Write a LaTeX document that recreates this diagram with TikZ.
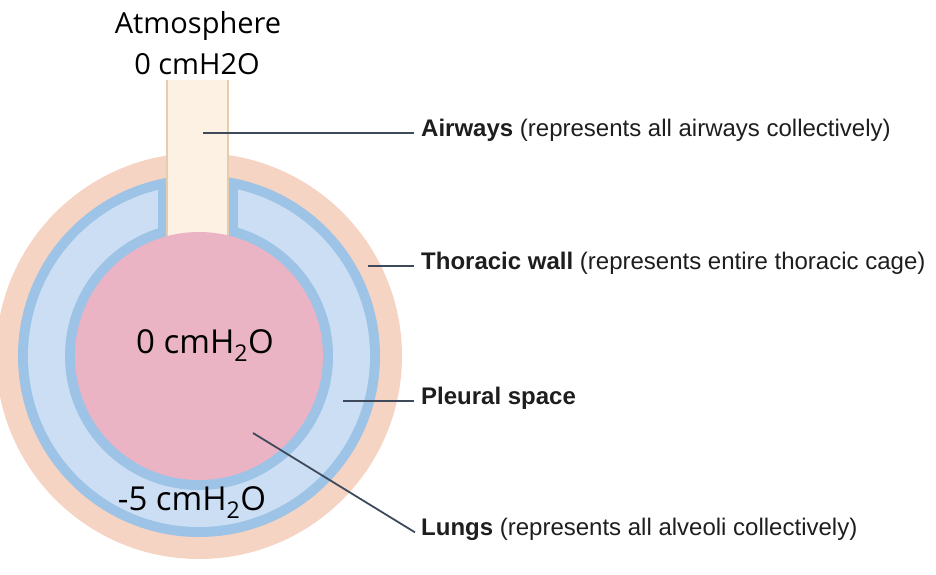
\documentclass[tikz,border=0pt]{standalone}
\usepackage{fontspec}
\setmainfont{Open Sans}
\newfontfamily\lblfont{Liberation Sans}
\usetikzlibrary{positioning}
\definecolor{wallpeach}{HTML}{F5D4C3}
\definecolor{pleurablue}{HTML}{9DC3E6}
\definecolor{pleurafill}{HTML}{CCDEF3}
\definecolor{lungpink}{HTML}{EAB4C5}
\definecolor{airwaycream}{HTML}{FCF1E2}
\definecolor{airwayedge}{HTML}{E3CDAE}
\definecolor{leader}{HTML}{3E4A5C}
\definecolor{lbltext}{HTML}{1E1E1E}

\begin{document}
\begin{tikzpicture}[
    x=1pt, y=-1pt,
    press/.style={font=\fontsize{29}{34}\selectfont, inner sep=0pt, anchor=base},
    bigpress/.style={press, font=\fontsize{33}{38}\selectfont},
    lbl/.style={font=\lblfont\fontsize{24}{28}\selectfont, text=lbltext, inner sep=0pt, anchor=base west, text height=0.75em, text depth=0.22em},
    leaderline/.style={draw=leader, line width=1.8pt}
  ]
    \useasboundingbox (0,0) rectangle (936,574);
    % thoracic wall, pleural space
    \fill[wallpeach] (199,356) circle (203);
    \fill[pleurablue] (199,356) circle (181);
    \fill[pleurafill] (199,356) circle (171);
    \fill[pleurablue] (158,182) rectangle (238,250);
    % airway and lung
    \fill[pleurablue] (199,356) circle (134);
    \fill[airwaycream] (166,80) rectangle (229,250);
    \draw[airwayedge, line width=1.6pt] (166.8,80) -- (166.8,250) (228.2,80) -- (228.2,250);
    \fill[lungpink] (199,356) circle (124);

    \node[press] (atm) at (198,33) {Atmosphere};
    \node[press] (atmP) at (197,74) {0 cmH2O};
    \node[bigpress] (lungP) at (205,353) {0 cmH\textsubscript{2}O};
    \node[bigpress] (pleuP) at (192,510) {-5 cmH\textsubscript{2}O};

    \node[lbl] (lblAir) at (421,136) {\bfseries Airways \mdseries(represents all airways collectively)};
    \node[lbl] (lblWall) at (421,269) {\bfseries Thoracic wall \mdseries(represents entire thoracic cage)};
    \node[lbl] (lblPleu) at (421,404) {\bfseries Pleural space};
    \node[lbl] (lblLung) at (421,535) {\bfseries Lungs \mdseries(represents all alveoli collectively)};

    \coordinate (airPt) at (203,128);
    \coordinate (wallPt) at (368,263);
    \coordinate (pleuPt) at (343,397);
    \coordinate (lungPt) at (253,433);
    \draw[leaderline] (airPt |- lblAir.west) -- ([xshift=-7pt]lblAir.west);
    \draw[leaderline] (wallPt |- lblWall.west) -- ([xshift=-7pt]lblWall.west);
    \draw[leaderline] (pleuPt |- lblPleu.west) -- ([xshift=-7pt]lblPleu.west);
    \draw[leaderline] (lungPt) -- ([xshift=-6pt]lblLung.west);
  \end{tikzpicture}
\end{document}
